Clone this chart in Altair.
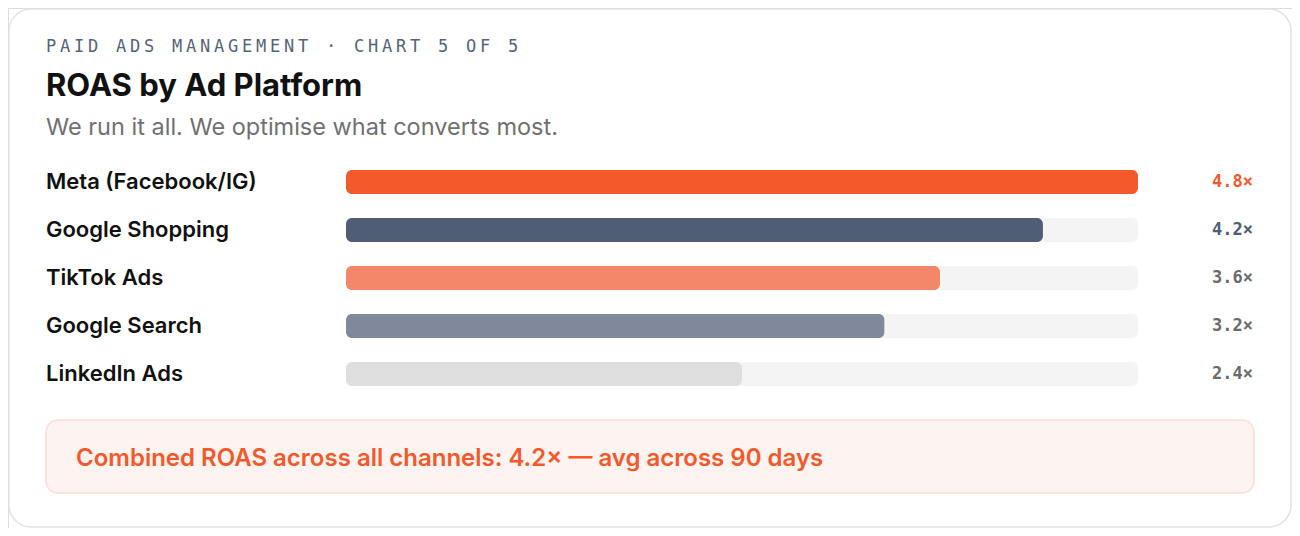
import altair as alt
import pandas as pd

# ---- data ----
platforms = ["Meta (Facebook/IG)", "Google Shopping", "TikTok Ads", "Google Search", "LinkedIn Ads"]
bar_share_pct = [100, 88, 75, 68, 50]
roas_labels = ["4.8×", "4.2×", "3.6×", "3.2×", "2.4×"]
bar_colors = ["#F3592A", "#4F5D75", "#F4866A", "#7F899B", "#DEDEDE"]
label_colors = ["#F3592A", "#4F5D75", "#6B6B6B", "#6B6B6B", "#6B6B6B"]
track_max = [100, 100, 100, 100, 100]

eyebrow = "PAID ADS MANAGEMENT · CHART 5 OF 5"
title = "ROAS by Ad Platform"
subtitle = "We run it all. We optimise what converts most."
callout = "Combined ROAS across all channels: 4.2× — avg across 90 days"

W, H = 1284, 520

df = pd.DataFrame({
    "platform": platforms,
    "pct": bar_share_pct,
    "track": track_max,
    "label": roas_labels,
    "bar_color": bar_colors,
    "label_color": label_colors,
})

xscale = alt.Scale(domain=[0, 100], range=[338, 1130])
yscale = alt.Scale(domain=platforms, range=[150, 390], paddingInner=0.5, paddingOuter=0.25)

one = pd.DataFrame({"k": [0]})

card = alt.Chart(one).mark_rect(
    fill="white", stroke="#E3E3E3", strokeWidth=1.5, cornerRadius=22
).encode(x=alt.value(1), x2=alt.value(W - 1), y=alt.value(1), y2=alt.value(H - 1))

# eyebrow, letter-spaced via one glyph per character on a linear scale
chars = pd.DataFrame({"ch": list(eyebrow), "i": list(range(len(eyebrow)))})
eyebrow_layer = alt.Chart(chars).mark_text(
    align="left", baseline="alphabetic", font="DejaVu Sans Mono", fontSize=17,
    color="#56637A"
).encode(
    x=alt.X("i:Q", scale=alt.Scale(domain=[0, len(eyebrow)], range=[38, 38 + 14 * len(eyebrow)]), axis=None),
    y=alt.value(44),
    text="ch:N",
)

title_layer = alt.Chart(pd.DataFrame({"t": [title]})).mark_text(
    align="left", baseline="alphabetic", font="Inter", fontSize=31, fontWeight=700, color="#111111"
).encode(x=alt.value(38), y=alt.value(88), text="t:N")

subtitle_layer = alt.Chart(pd.DataFrame({"t": [subtitle]})).mark_text(
    align="left", baseline="alphabetic", font="Inter", fontSize=23.5, fontWeight=400, color="#707070"
).encode(x=alt.value(38), y=alt.value(127), text="t:N")

track = alt.Chart(df).mark_bar(cornerRadius=6, color="#F4F4F4").encode(
    x=alt.X("track:Q", scale=xscale, axis=None),
    y=alt.Y("platform:N", scale=yscale, axis=None, sort=platforms),
)

bars = alt.Chart(df).mark_bar(cornerRadius=6).encode(
    x=alt.X("pct:Q", scale=xscale, axis=None),
    y=alt.Y("platform:N", scale=yscale, axis=None, sort=platforms),
    color=alt.Color("bar_color:N", scale=None, legend=None),
)

names = alt.Chart(df).mark_text(
    align="left", baseline="middle", font="Inter", fontSize=22, fontWeight=600, color="#111111"
).encode(
    x=alt.value(38),
    y=alt.Y("platform:N", scale=yscale, axis=None, sort=platforms),
    text="platform:N",
)

values = alt.Chart(df).mark_text(
    align="right", baseline="middle", font="DejaVu Sans Mono", fontSize=17, fontWeight="bold"
).encode(
    x=alt.value(1245),
    y=alt.Y("platform:N", scale=yscale, axis=None, sort=platforms),
    text="label:N",
    color=alt.Color("label_color:N", scale=None, legend=None),
)

callout_box = alt.Chart(one).mark_rect(
    fill="#FDF3F0", stroke="#FCDDD1", strokeWidth=1.5, cornerRadius=12
).encode(x=alt.value(38), x2=alt.value(1246), y=alt.value(412), y2=alt.value(485))

callout_text = alt.Chart(pd.DataFrame({"t": [callout]})).mark_text(
    align="left", baseline="middle", font="Inter", fontSize=24, fontWeight=600, color="#F3592A"
).encode(x=alt.value(68), y=alt.value(451), text="t:N")

chart = alt.layer(
    card, eyebrow_layer, title_layer, subtitle_layer, track, bars, names, values,
    callout_box, callout_text
).resolve_scale(x="independent").properties(
    width=W, height=H, autosize=alt.AutoSizeParams(type="none"), padding=0
).configure_view(stroke=None).configure(background="white")

chart.save("out.html", embed_options={"renderer": "svg", "actions": False})
